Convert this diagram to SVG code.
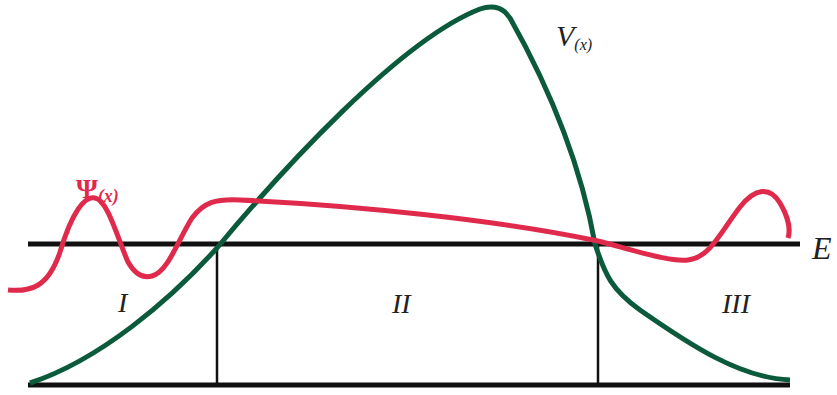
<svg xmlns="http://www.w3.org/2000/svg" width="837" height="395" viewBox="0 0 837 395">
<style>
.ax{stroke:#111;fill:none;stroke-linecap:butt}
.lbl{font-family:"Liberation Serif",serif;font-style:italic;fill:#222}
</style>
<rect width="837" height="395" fill="#fff"/>
<g id="axes">
<line class="ax" x1="28" y1="244" x2="800" y2="244" stroke-width="5"/>
<line class="ax" x1="28" y1="385" x2="790" y2="385" stroke-width="5"/>
<line class="ax" x1="217" y1="244" x2="217" y2="385" stroke-width="2.5"/>
<line class="ax" x1="598" y1="244" x2="598" y2="385" stroke-width="2.5"/>
</g>
<g id="connectors">
<path id="V" d="M30,383 C100,360 170,300 217,248 C280,172 400,40 480,9 Q495,4 505,12 L510,18 C545,80 580,160 595,244 C605,275 612,290 640,310 C690,345 740,378 790,380" fill="none" stroke="#0b5a3b" stroke-width="5" stroke-linejoin="round"/>
<path id="Psi" d="M8,290 C30,292 48,288 60,252 C72,212 85,195 95,198 C108,200 118,240 128,262 C136,276 145,278 152,276 C168,272 178,240 192,218 C204,202 215,199 240,200 C350,205 500,220 598,241 C640,252 670,262 688,260 C710,258 722,230 740,207 C755,188 770,186 780,203 C790,220 790,232 788,238" fill="none" stroke="#e02a4c" stroke-width="5"/>
</g>
<g id="labels">
<text class="lbl" x="812" y="259" font-size="32">E</text>
<text class="lbl" x="118" y="312" font-size="28">I</text>
<text class="lbl" x="392" y="313" font-size="28">II</text>
<text class="lbl" x="722" y="313" font-size="28">III</text>
<text class="lbl" x="556" y="46" font-size="30">V<tspan font-size="16" dy="4">(x)</tspan></text>
<text x="76" y="198" font-family="Liberation Serif,serif" font-weight="bold" font-size="28" fill="#e02a4c">Ψ<tspan font-size="18" dy="4" font-style="italic">(x)</tspan></text>
</g>
</svg>
